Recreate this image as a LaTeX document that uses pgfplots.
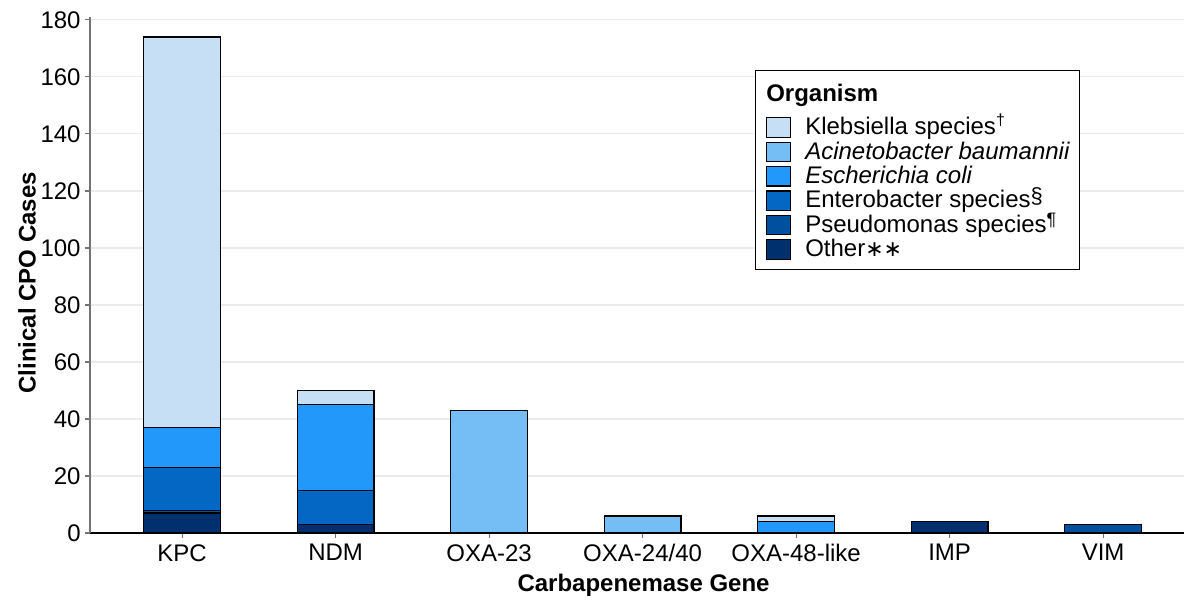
\documentclass[border=0pt]{standalone}
\usepackage{fontspec}
\setmainfont{Liberation Sans}
\newfontfamily\dejavu{DejaVu Sans}
\usepackage{pgfplots}
\pgfplotsset{compat=1.18}
\usepackage{pgfplotstable}

\definecolor{ckleb}{HTML}{C6DFF4}
\definecolor{cacin}{HTML}{75BEF5}
\definecolor{cecoli}{HTML}{2298FA}
\definecolor{centero}{HTML}{0467C4}
\definecolor{cpseudo}{HTML}{0050A0}
\definecolor{cother}{HTML}{01306E}

\pgfplotstableread{
x other pseudo entero ecoli acin kleb
0 7 1 15 14 0 137
1 3 0 12 30 0 5
2 0 0 0 0 43 0
3 0 0 0 0 6 0
4 0 0 0 4 0 2
5 4 0 0 0 0 0
6 0 3 0 0 0 0
}\datatable

\begin{document}
\begin{tikzpicture}
\begin{axis}[
  at={(0,0)}, anchor=south west,
  scale only axis, width=547pt, height=258pt,
  ybar stacked, bar width=0.5,
  xmin=-0.6, xmax=6.527, ymin=0, ymax=181,
  enlargelimits=false,
  xtick={0,...,6},
  xticklabels={KPC,NDM,OXA-23,OXA-24/40,OXA-48-like,IMP,VIM},
  ytick={0,20,...,180},
  axis lines=left,
  axis line style={-},
  x axis line style={black, line width=0.6pt},
  y axis line style={black!55, line width=0.8pt},
  tick align=outside, major tick length=2.5pt,
  tick style={black!55, line width=0.6pt},
  ymajorgrids, grid style={color=black!8, line width=0.6pt},
  /pgf/number format/assume math mode=true,
  ticklabel style={font=\fontsize{12}{14}\selectfont, text=black},
  yticklabel style={inner xsep=2pt},
  xticklabel style={inner ysep=3pt},
  xlabel={\textbf{Carbapenemase Gene}},
  ylabel={\textbf{Clinical CPO Cases}},
  xlabel style={font=\fontsize{12}{14}\selectfont, at={(axis description cs:0.506,0)}, anchor=center, yshift=-26pt},
  ylabel style={font=\fontsize{12}{14}\selectfont, at={(axis description cs:-0.0576,0.485)}, anchor=center},
  legend image code/.code={
    \path[draw=none, fill=none] (0pt,-1.5pt) rectangle (19.5pt,9pt);
    \draw[#1, draw=black, line width=0.6pt] (0pt,-4.3pt) rectangle (12pt,5.4pt);
  },
  reverse legend,
  legend cell align=left,
  legend style={
    at={(0.608,0.897)}, anchor=north west,
    draw=black, line width=0.5pt,
    font=\fontsize{12}{14}\selectfont,
    inner xsep=5pt, inner ysep=3.5pt,
    row sep=-2.8pt, column sep=0pt,
    nodes={inner sep=0pt, text height=9pt, text depth=3pt},
  },
]
\addplot[fill=cother, draw=black, line width=0.6pt] table[x=x, y=other]{\datatable};
\addlegendentry{Other{\dejavu\fontsize{11}{13}\selectfont ∗∗}}
\addplot[fill=cpseudo, draw=black, line width=0.6pt] table[x=x, y=pseudo]{\datatable};
\addlegendentry{Pseudomonas species\raisebox{3.5pt}{\small ¶}}
\addplot[fill=centero, draw=black, line width=0.6pt] table[x=x, y=entero]{\datatable};
\addlegendentry{Enterobacter species\raisebox{2pt}{\fontsize{11}{13}\selectfont §}}
\addplot[fill=cecoli, draw=black, line width=0.6pt] table[x=x, y=ecoli]{\datatable};
\addlegendentry{\textit{Escherichia coli}}
\addplot[fill=cacin, draw=black, line width=0.6pt] table[x=x, y=acin]{\datatable};
\addlegendentry{\textit{Acinetobacter baumannii}}
\addplot[fill=ckleb, draw=black, line width=0.6pt] table[x=x, y=kleb]{\datatable};
\addlegendentry{Klebsiella species\textsuperscript{†}}
\addlegendimage{legend image code/.code={\path[draw=none, fill=none] (0pt,-10.3pt) -- (0pt,9pt);}}
\addlegendentry{\hspace*{-19.5pt}\textbf{Organism}}
\end{axis}
\pgfresetboundingbox
\path (-45pt,-34.5pt) rectangle (547pt,266.5pt);
\end{tikzpicture}
\end{document}
